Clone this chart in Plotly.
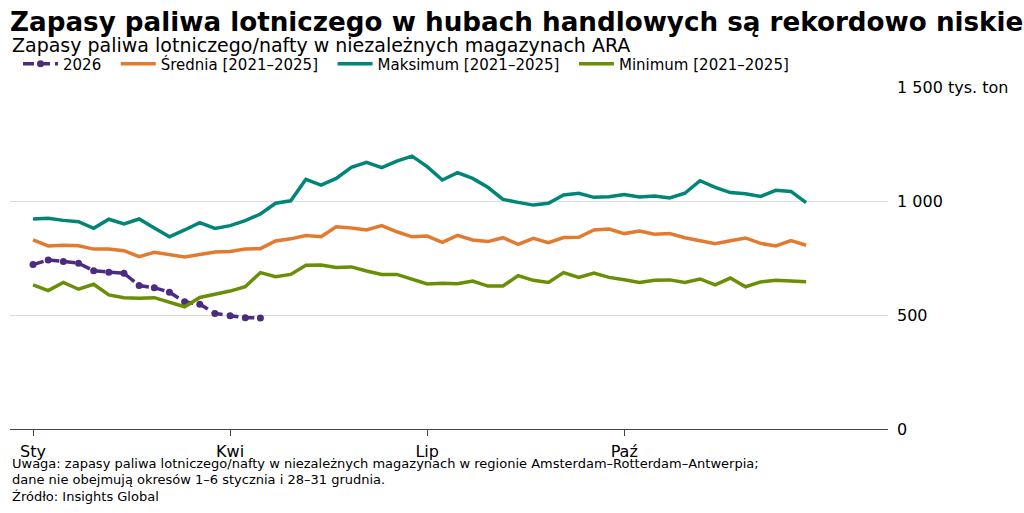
import plotly.graph_objects as go

weeks = list(range(1, 53))
weeks_2026 = list(range(1, 17))

max_2125 = [921, 924, 915, 909, 880, 920, 899, 921, 882, 843, 873, 905, 880, 892, 914, 943,
            990, 1001, 1095, 1070, 1099, 1148, 1170, 1146, 1175, 1197, 1151, 1092, 1124, 1099,
            1060, 1007, 994, 982, 990, 1026, 1034, 1016, 1019, 1028, 1018, 1022, 1013, 1034,
            1089, 1060, 1037, 1032, 1020, 1047, 1042, 993]
avg_2125 = [829, 803, 806, 804, 789, 789, 782, 756, 775, 763, 754, 765, 776, 779, 789, 791,
            825, 834, 849, 843, 887, 882, 873, 892, 865, 843, 846, 819, 849, 829,
            822, 839, 810, 836, 817, 840, 841, 873, 877, 857, 868, 854, 857, 839,
            825, 813, 826, 838, 814, 803, 826, 806]
min_2125 = [632, 607, 643, 613, 635, 588, 576, 573, 576, 558, 536, 577, 592, 605, 624, 686,
            668, 678, 718, 719, 708, 711, 693, 678, 678, 658, 636, 639, 637, 649,
            627, 627, 673, 652, 643, 686, 665, 684, 665, 655, 643, 652, 654, 643,
            658, 632, 662, 624, 645, 652, 648, 646]
y2026 = [721, 741, 735, 727, 694, 687, 683, 629, 620, 600, 558, 547, 507, 497, 488, 487]

tick_weeks = [1, 14, 27, 40]
tick_labels = ["Sty", "Kwi", "Lip", "Paź"]
y_ticks = [0, 500, 1000, 1500]
y_tick_labels = ["0", "500", "1 000", "1 500 tys. ton"]

c_2026 = "#4b2c82"
c_avg = "#e27b2f"
c_max = "#008577"
c_min = "#6a8e05"

pad = "\u00a0\u00a0"

fig = go.Figure()
fig.add_trace(go.Scatter(x=weeks_2026, y=y2026, name="2026" + pad, mode="lines+markers",
                         line=dict(color=c_2026, width=3.5, dash="11px,5px"),
                         marker=dict(size=7, color=c_2026)))
fig.add_trace(go.Scatter(x=weeks, y=avg_2125, name="Średnia [2021–2025]" + pad, mode="lines",
                         line=dict(color=c_avg, width=3.5)))
fig.add_trace(go.Scatter(x=weeks, y=max_2125, name="Maksimum [2021–2025]" + pad, mode="lines",
                         line=dict(color=c_max, width=3.5)))
fig.add_trace(go.Scatter(x=weeks, y=min_2125, name="Minimum [2021–2025]", mode="lines",
                         line=dict(color=c_min, width=3.5)))

font_family = "DejaVu Sans"
top, bottom = 87, 429
H = bottom - top
left, right = 10, 888
W = right - left

def py(pix):
    return (bottom - pix) / H

def px(pix):
    return (pix - left) / W

fig.update_layout(
    width=1024, height=513,
    margin=dict(l=left, r=1024 - right, t=top, b=513 - bottom),
    paper_bgcolor="white", plot_bgcolor="white",
    font=dict(family=font_family, color="black", size=15),
    showlegend=True,
    legend=dict(orientation="h", x=px(18), xanchor="left", y=py(64), yanchor="middle",
                font=dict(size=15, family=font_family), itemwidth=35,
                bgcolor="rgba(0,0,0,0)", tracegroupgap=0, borderwidth=0),
    title=dict(text="<b>Zapasy paliwa lotniczego w hubach handlowych są rekordowo niskie</b>",
               x=10 / 1024, xanchor="left", xref="container", y=1 - 22 / 513, yanchor="middle",
               yref="container", font=dict(size=26.2, family=font_family, color="black")),
    xaxis=dict(range=[-0.52, 57.4], tickvals=tick_weeks, ticktext=tick_labels,
               showgrid=False, zeroline=False, showline=True, linecolor="#444444", linewidth=1.3,
               ticks="outside", ticklen=6, tickcolor="#444444", tickwidth=1,
               ticklabelstandoff=2,
               tickfont=dict(size=16, family=font_family)),
    yaxis=dict(range=[0, 1500], tickvals=y_ticks, ticktext=y_tick_labels, side="right",
               showgrid=True, gridcolor="#dcdcdc", gridwidth=1.2, zeroline=False,
               showline=False, ticks="", ticklabelstandoff=8,
               tickfont=dict(size=16, family=font_family)),
)

fig.add_annotation(text="Zapasy paliwa lotniczego/nafty w niezależnych magazynach ARA",
                   xref="paper", yref="paper", x=0, y=py(45), xanchor="left", yanchor="middle",
                   showarrow=False, font=dict(size=19, family=font_family))
notes = [
    ("Uwaga: zapasy paliwa lotniczego/nafty w niezależnych magazynach w regionie Amsterdam–Rotterdam–Antwerpia;", 463),
    ("dane nie obejmują okresów 1–6 stycznia i 28–31 grudnia.", 479),
    ("Źródło: Insights Global", 496),
]
for txt, pix in notes:
    fig.add_annotation(text=txt, xref="paper", yref="paper", x=0, y=py(pix),
                       xanchor="left", yanchor="middle", showarrow=False,
                       font=dict(size=13, family=font_family))

fig.write_html("out.html")
